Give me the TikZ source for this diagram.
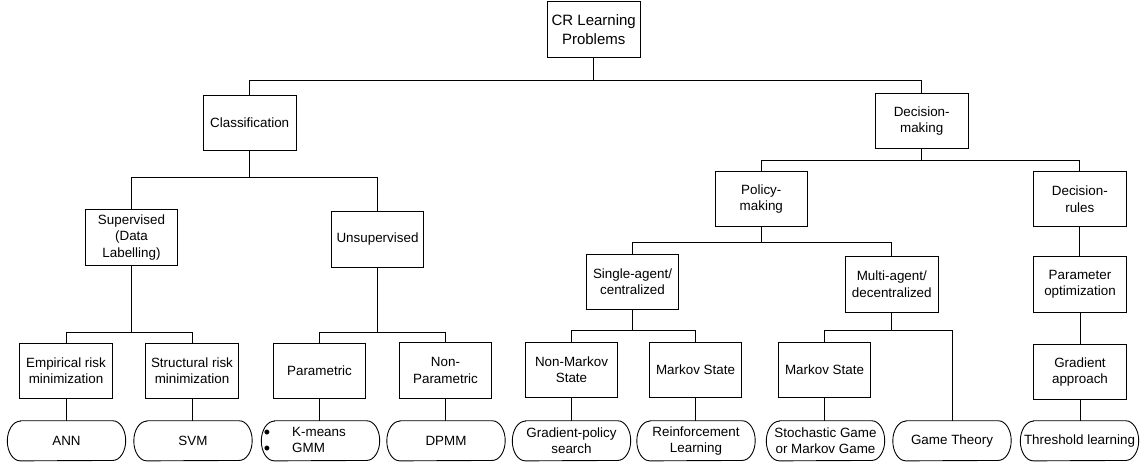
\documentclass[tikz,border=0pt]{standalone}
\usepackage{fontspec}
\setmainfont{Liberation Sans}
\newcommand\leafoutline[1]{%
  \draw[conn] ([xshift=13pt]#1.north west) -- ([xshift=-13pt]#1.north east)
    arc[start angle=90,end angle=-90,x radius=13pt,y radius=19.85pt]
    -- ([xshift=13pt]#1.south west)
    arc[start angle=270,end angle=90,x radius=13pt,y radius=19.85pt] -- cycle;}
\newcommand\bigbullet{\raisebox{-1.7pt}{\fontsize{18}{16.5}\selectfont •}}
\begin{document}
\begin{tikzpicture}[x=1pt,y=-1pt,
  every node/.style={font=\fontsize{13.4}{16.5}\selectfont},
  box/.style={draw=black, line width=0.9pt, minimum width=92.5pt, minimum height=55.5pt, inner sep=0pt, align=center},
  rootbox/.style={box, font=\fontsize{15}{19}\selectfont},
  leaf/.style={minimum width=118pt, minimum height=39.7pt, inner sep=0pt, align=center},
  conn/.style={draw=black, line width=0.9pt},
]
\useasboundingbox (0,0) rectangle (1145,464);

% bus levels
\coordinate (b0) at (0,80);
\coordinate (b1) at (0,177);
\coordinate (b2) at (0,160);
\coordinate (b3) at (0,332.3);
\coordinate (b4) at (0,242.3);
\coordinate (b5) at (0,330.5);

% boxes
\node[rootbox] (root) at (593.7,29.5) {CR Learning\\Problems};
\node[box] (cls) at (249.7,123) {Classification};
\node[box] (dm) at (921.7,121) {Decision-\\making};
\node[box] (sup) at (131.5,237.3) {Supervised\\(Data\\Labelling)};
\node[box] (uns) at (377.5,239.3) {Unsupervised};
\node[box] (pol) at (761.3,199) {Policy-\\making};
\node[box] (dr) at (1079.8,199) {Decision-\\rules};
\node[box] (sa) at (632.5,281.7) {Single-agent/\\centralized};
\node[box] (ma) at (891.8,284.2) {Multi-agent/\\decentralized};
\node[box] (po) at (1080,284.2) {Parameter\\optimization};
\node[box] (erm) at (66,370.8) {Empirical risk\\minimization};
\node[box] (srm) at (192,370.8) {Structural risk\\minimization};
\node[box] (par) at (319.5,370.8) {Parametric};
\node[box] (npar) at (445.5,370.5) {Non-\\Parametric};
\node[box] (nms) at (571.5,369.7) {Non-Markov\\State};
\node[box] (ms1) at (695.5,369.7) {Markov State};
\node[box] (ms2) at (824.5,369.7) {Markov State};
\node[box] (ga) at (1080,371.8) {Gradient\\approach};

% leaves
\node[leaf] (ann) at (66.5,440.8) {ANN};
\node[leaf] (svm) at (193,440.8) {SVM};
\node[leaf] (km) at (320.5,440.8) {\parbox{118pt}{\hspace*{2.4pt}\bigbullet\hspace{22pt}K-means\\\hspace*{2.4pt}\bigbullet\hspace{22pt}GMM}};
\node[leaf] (dpmm) at (446,440.8) {DPMM};
\node[leaf] (gps) at (571.5,440.8) {Gradient-policy\\search};
\node[leaf] (rl) at (696,440.8) {Reinforcement\\Learning};
\node[leaf] (sg) at (825.5,440.8) {Stochastic Game\\or Markov Game};
\node[leaf] (gt) at (952,440.8) {Game Theory};
\node[leaf] (tl) at (1079.5,440.8) {Threshold learning};
\foreach \n in {ann,svm,km,dpmm,gps,rl,sg,gt,tl} {\leafoutline{\n}}

% connectors
\foreach \p/\c/\b in {root/cls/b0, root/dm/b0, cls/sup/b1, cls/uns/b1,
  dm/pol/b2, dm/dr/b2, sup/erm/b3, sup/srm/b3, uns/par/b3, uns/npar/b3,
  pol/sa/b4, sa/nms/b5, sa/ms1/b5, ma/ms2/b5, ma/gt/b5}
  {\draw[conn] (\p.south) |- (\c.north |- \b) -- (\c.north);}
\draw[conn] (pol.south) |- (ma.north |- b4) -- (ma.north);
\draw[conn] (dr.south) -- (dr.south |- po.north);
\draw[conn] (po.south) -- (po.south |- ga.north);
\foreach \p/\c in {erm/ann, srm/svm, par/km, npar/dpmm, nms/gps, ms1/rl, ms2/sg, ga/tl}
  {\draw[conn] (\p.south) -- (\p.south |- \c.north);}
\end{tikzpicture}
\end{document}
